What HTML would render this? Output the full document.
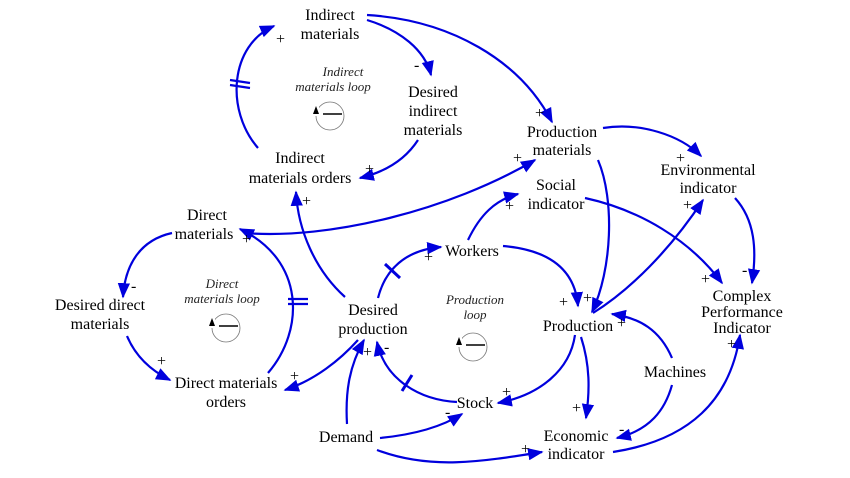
<!DOCTYPE html>
<html><head><meta charset="utf-8"><style>
html,body{margin:0;padding:0;background:#fff;}
svg{display:block;}
text{font-family:"Liberation Serif",serif;font-size:16px;fill:#000;}
.n{text-anchor:middle;}
.i{font-style:italic;font-size:13px;fill:#222;}
.s{font-size:13px;fill:#333;}
path.e{fill:none;stroke:#0000dd;stroke-width:2.2;}
</style></head><body>
<svg width="850" height="478" viewBox="0 0 850 478" xmlns="http://www.w3.org/2000/svg">
<defs><marker id="a" viewBox="0 0 10 10" refX="9" refY="5" markerWidth="7" markerHeight="7" orient="auto" markerUnits="strokeWidth"><path d="M0,1 L10,5 L0,9 z" fill="#0000dd"/></marker></defs>
<g marker-end="url(#a)">
<path class="e" d="M258,148 C225,110 230,45 274,26"/>
<path class="e" d="M367,20 C400,30 425,50 431,75"/>
<path class="e" d="M418,140 C405,160 385,172 360,178"/>
<path class="e" d="M367,15 C450,20 520,60 552,122"/>
<path class="e" d="M603,128 C640,122 680,135 701,156"/>
<path class="e" d="M598,160 C615,200 612,270 592,312"/>
<path class="e" d="M244,233 C330,240 450,210 535,160"/>
<path class="e" d="M345,297 C315,270 298,230 296,192"/>
<path class="e" d="M358,340 C340,360 315,380 285,390"/>
<path class="e" d="M268,373 C305,330 305,260 240,229"/>
<path class="e" d="M172,233 C140,240 125,265 123,297"/>
<path class="e" d="M127,336 C135,355 150,370 170,380"/>
<path class="e" d="M378,298 C385,270 405,250 441,247"/>
<path class="e" d="M468,240 C480,215 495,200 518,194"/>
<path class="e" d="M503,246 C550,250 575,270 578,306"/>
<path class="e" d="M585,198 C640,210 690,240 722,283"/>
<path class="e" d="M735,198 C755,220 757,250 752,283"/>
<path class="e" d="M593,313 C630,290 670,250 703,200"/>
<path class="e" d="M672,358 C660,330 640,318 612,314"/>
<path class="e" d="M672,385 C665,410 650,430 617,438"/>
<path class="e" d="M575,335 C570,370 540,395 498,403"/>
<path class="e" d="M581,337 C590,365 590,390 586,418"/>
<path class="e" d="M457,402 C420,400 385,380 377,342"/>
<path class="e" d="M347,424 C345,390 350,365 364,340"/>
<path class="e" d="M380,438 C410,435 440,428 462,414"/>
<path class="e" d="M377,450 C430,470 480,462 542,452"/>
<path class="e" d="M613,452 C690,440 730,400 740,335"/>
</g>
<g stroke="#0000dd" stroke-width="2.2">
<line x1="230" y1="80" x2="250" y2="83"/><line x1="230" y1="85" x2="250" y2="88"/>
<line x1="288" y1="299" x2="308" y2="299"/><line x1="288" y1="304" x2="308" y2="304"/>
<line x1="385" y1="264" x2="400" y2="278" stroke-width="3"/>
<line x1="402" y1="391" x2="412" y2="375" stroke-width="3"/>
</g>
<g class="n">
<text x="330" y="20">Indirect</text><text x="330" y="39">materials</text>
<text x="433" y="97">Desired</text><text x="433" y="116">indirect</text><text x="433" y="135">materials</text>
<text x="300" y="163">Indirect</text><text x="300" y="183">materials orders</text>
<text x="562" y="137">Production</text><text x="562" y="155">materials</text>
<text x="708" y="175">Environmental</text><text x="708" y="193">indicator</text>
<text x="556" y="190">Social</text><text x="556" y="209">indicator</text>
<text x="207" y="220">Direct</text><text x="204" y="239">materials</text>
<text x="472" y="256">Workers</text>
<text x="100" y="310">Desired direct</text><text x="100" y="329">materials</text>
<text x="373" y="315">Desired</text><text x="373" y="334">production</text>
<text x="578" y="331">Production</text>
<text x="742" y="301">Complex</text><text x="742" y="317">Performance</text><text x="742" y="333">Indicator</text>
<text x="226" y="388">Direct materials</text><text x="226" y="407">orders</text>
<text x="675" y="377">Machines</text>
<text x="475" y="408">Stock</text>
<text x="346" y="442">Demand</text>
<text x="576" y="441">Economic</text><text x="576" y="459">indicator</text>
<text class="i" x="343" y="76">Indirect</text><text class="i" x="333" y="91">materials loop</text>
<text class="i" x="222" y="288">Direct</text><text class="i" x="222" y="303">materials loop</text>
<text class="i" x="475" y="304">Production</text><text class="i" x="475" y="319">loop</text>
</g>
<g fill="none" stroke="#777" stroke-width="0.8">
<circle cx="330" cy="116" r="14"/><circle cx="226" cy="328" r="14"/><circle cx="473" cy="347" r="14"/>
</g>
<g fill="#fff"><rect x="311" y="102" width="8" height="14"/><rect x="207" y="314" width="8" height="14"/><rect x="454" y="333" width="8" height="14"/></g>
<g stroke="#000" stroke-width="1.5"><line x1="323" y1="114" x2="342" y2="114"/><line x1="219" y1="326" x2="238" y2="326"/><line x1="466" y1="345" x2="485" y2="345"/></g>
<g fill="#000"><path d="M316,106 l3,8 h-6z"/><path d="M212,318 l3,8 h-6z"/><path d="M459,337 l3,8 h-6z"/></g>
<g class="s">
<text x="276" y="44">+</text><text x="414" y="70">-</text><text x="365" y="174">+</text><text x="535" y="118">+</text>
<text x="676" y="163">+</text><text x="513" y="163">+</text><text x="683" y="210">+</text><text x="505" y="211">+</text>
<text x="302" y="206">+</text><text x="242" y="244">+</text><text x="131" y="291">-</text><text x="157" y="366">+</text>
<text x="290" y="381">+</text><text x="424" y="262">+</text><text x="559" y="307">+</text><text x="583" y="303">+</text>
<text x="617" y="328">+</text><text x="701" y="284">+</text><text x="742" y="275">-</text><text x="727" y="349">+</text>
<text x="502" y="397">+</text><text x="572" y="413">+</text><text x="619" y="434">-</text><text x="363" y="357">+</text>
<text x="384" y="352">-</text><text x="445" y="417">-</text><text x="521" y="454">+</text>
</g>
</svg>
</body></html>
